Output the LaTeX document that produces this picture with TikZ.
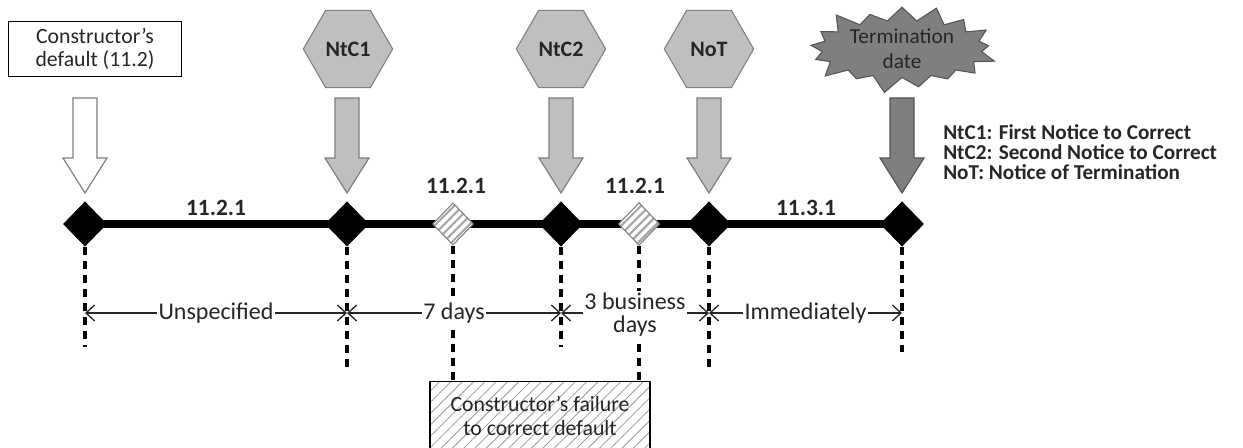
\documentclass[tikz,border=0pt]{standalone}
\usepackage{fontspec}
\setmainfont{Carlito}
\usetikzlibrary{shapes.geometric,shapes.symbols,patterns,patterns.meta,arrows.meta}
\definecolor{hexfill}{HTML}{BFBFBF}
\definecolor{hexdraw}{HTML}{7F7F7F}
\definecolor{darkfill}{HTML}{7F7F7F}
\definecolor{darkdraw}{HTML}{555555}
\definecolor{txt}{HTML}{262626}
\newcommand{\bigarrowat}[3]{% x, fill, draw
  \filldraw[fill=#2,draw=#3,line width=0.9pt]
    (#1-12,98) -- (#1+12,98) -- (#1+12,158) -- (#1+22,158) -- (#1,193)
    -- (#1-22,158) -- (#1-12,158) -- cycle;}
\begin{document}
\begin{tikzpicture}[x=0.75pt,y=-0.75pt,
  blackdiam/.style={diamond,fill=black,inner sep=0pt,minimum width=33pt,minimum height=34pt},
  hatchdiam/.style={diamond,draw=hexdraw,line width=0.8pt,inner sep=0pt,minimum width=31pt,minimum height=32pt,
     preaction={fill=white},pattern={Lines[angle=45,distance=4.5pt,line width=1.6pt]},pattern color=gray!70},
  hexa/.style={regular polygon,regular polygon sides=6,minimum size=67pt,inner sep=0pt,
     fill=hexfill,draw=hexdraw,line width=0.8pt,font=\bfseries\fontsize{16.5}{18}\selectfont,text=txt},
  dotline/.style={line width=3pt,dash pattern=on 6pt off 4.5pt,black},
  dimline/.style={line width=1pt,draw=txt,{Straight Barb[length=6.5pt,width=12pt]}-{Straight Barb[length=6.5pt,width=12pt]}},
  dimlab/.style={fill=white,inner sep=1pt,text=txt,font=\fontsize{18}{17.5}\selectfont,align=center},
  seclab/.style={font=\bfseries\fontsize{17.5}{18}\selectfont,text=txt},
  legend/.style={anchor=west,font=\bfseries\fontsize{15.9}{16}\selectfont,text=txt,inner sep=0pt}
  ]
\useasboundingbox (0,0) rectangle (1243,448);
% timeline
\coordinate (t0) at (85,224);
\coordinate (t6) at (902,224);
\draw[line width=6pt] (t0) -- (t6);
% diamonds
\node[blackdiam] (d1) at (85,224) {};
\node[blackdiam] (d2) at (347,224) {};
\node[hatchdiam] (h1) at (453,224) {};
\node[blackdiam] (d3) at (561,224) {};
\node[hatchdiam] (h2) at (639,224) {};
\node[blackdiam] (d4) at (709,224) {};
\node[blackdiam] (d5) at (902,224) {};
% section labels
\node[seclab] (s1) at (216,208) {11.2.1};
\node[seclab] (s2) at (456,186) {11.2.1};
\node[seclab] (s3) at (635,186) {11.2.1};
\node[seclab] (s4) at (806,208) {11.3.1};
% failure box
\node[draw=black,line width=0.8pt,minimum width=165pt,minimum height=52pt,inner sep=0pt,
  preaction={fill=white},pattern={Lines[angle=45,distance=6pt,line width=0.6pt]},pattern color=gray!80,
  text=txt,align=center,font=\fontsize{16.3}{18}\selectfont] (fail) at (540,416)
  {Constructor's failure\\to correct default};
% dotted lines
\coordinate (e1) at (85,347);
\coordinate (e2) at (347,368);
\coordinate (e3) at (561,347);
\coordinate (e4) at (709,372);
\coordinate (e5) at (902,352);
\draw[dotline] (d1.south) -- (e1);
\draw[dotline] (d2.south) -- (e2);
\draw[dotline] (h1.south) -- (h1.south |- fail.north);
\draw[dotline] (d3.south) -- (e3);
\draw[dotline] (h2.south) -- (h2.south |- fail.north);
\draw[dotline] (d4.south) -- (e4);
\draw[dotline] (d5.south) -- (e5);
% dimension lines
\coordinate (m1) at (85,313);
\coordinate (m2) at (347,313);
\coordinate (m3) at (561,313);
\coordinate (m4) at (709,313);
\coordinate (m5) at (902,313);
\draw[dimline] (m1) -- (m2) node[dimlab,midway] (l1) {Unspecified};
\draw[dimline] (m2) -- (m3) node[dimlab,midway] (l2) {7 days};
\draw[dimline] (m3) -- (m4) node[dimlab,midway,yshift=-1pt] (l3) {3 business\\days};
\draw[dimline] (m4) -- (m5) node[dimlab,midway] (l4) {Immediately};
% top: constructor's default
\node[draw=black,line width=0.8pt,minimum width=130pt,minimum height=41pt,inner sep=0pt,align=center,
  text=txt,font=\fontsize{16.3}{17}\selectfont] (cd) at (95,49) {Constructor's\\default (11.2)};
\bigarrowat{85}{white}{hexdraw}
% hexagons
\node[hexa] (n1) at (348,49) {NtC1};
\node[hexa] (n2) at (561,49) {NtC2};
\node[hexa] (n3) at (709,49) {NoT};
\bigarrowat{347}{hexfill}{hexdraw}
\bigarrowat{561}{hexfill}{hexdraw}
\bigarrowat{709}{hexfill}{hexdraw}
% termination
\node[starburst,starburst points=17,starburst point height=14pt,minimum width=148pt,minimum height=58pt,
  inner sep=0pt,fill=darkfill,draw=darkdraw,line width=0.8pt,align=center,text=txt,
  font=\fontsize{16}{19}\selectfont] (td) at (902,49) {Termination\\date};
\bigarrowat{902}{darkfill}{darkdraw}
% legend
\node[legend] (g1) at (943,132) {NtC1: First Notice to Correct};
\node[legend] (g2) at (943,152) {NtC2: Second Notice to Correct};
\node[legend] (g3) at (943,172) {NoT: Notice of Termination};
\end{tikzpicture}
\end{document}
